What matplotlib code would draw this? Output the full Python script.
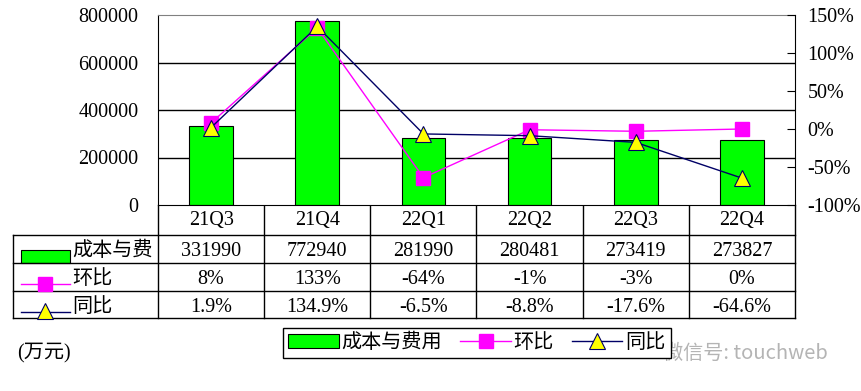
import matplotlib
matplotlib.use("Agg")
from matplotlib import pyplot as plt
from matplotlib import transforms
from matplotlib.patches import Rectangle

plt.rcParams['font.family'] = ['Liberation Serif', 'Noto Sans CJK SC']

# Dati
trimestri = ["21Q3", "21Q4", "22Q1", "22Q2", "22Q3", "22Q4"]
costi = [331990, 772940, 281990, 280481, 273419, 273827]   # 成本与费用 (万元)
huanbi = [8, 133, -64, -1, -3, 0]                          # 环比 %
tongbi = [1.9, 134.9, -6.5, -8.8, -17.6, -64.6]            # 同比 %

W, H = 862, 391
FS = 14.5
VERDE, MAGENTA, BLU, GIALLO = "#00FF00", "#FF00FF", "#000066", "#FFFF00"

fig = plt.figure(figsize=(W / 100, H / 100), dpi=100)

# Asse di sfondo in pixel per la tabella
bg = fig.add_axes([0, 0, 1, 1])
bg.set_xlim(0, W)
bg.set_ylim(H, 0)
bg.axis("off")

# Grafico principale
ax = fig.add_axes([158 / W, 1 - 205 / H, 637 / W, 190 / H])
x = list(range(len(trimestri)))
barre = ax.bar(x, costi, width=0.41, color=VERDE, edgecolor="black", linewidth=0.8, zorder=2)
ax.set_xlim(-0.5, 5.5)
ax.set_ylim(0, 800000)
yt = list(range(0, 800001, 200000))
ax.set_yticks(yt)
for t in yt[1:-1]:
    ax.axhline(t, color="black", lw=1, zorder=1)
ax.set_xticks([])
ax.tick_params(axis="y", length=0, pad=14, labelsize=FS)
ax.spines["top"].set_color("#808080")
ax.spines["right"].set_visible(False)

ax2 = ax.twinx()
ax2.set_ylim(-100, 150)
pt = list(range(-100, 151, 50))
ax2.set_yticks(pt)
ax2.set_yticklabels([f"{t}%" for t in pt])
ax2.tick_params(axis="y", direction="in", length=6, pad=9, labelsize=FS)
for s in ["left", "top", "bottom"]:
    ax2.spines[s].set_visible(False)
l1, = ax2.plot(x, huanbi, color=MAGENTA, lw=1, marker="s", ms=10.5,
               mfc=MAGENTA, mec=MAGENTA, clip_on=False, zorder=3)
l2, = ax2.plot(x, tongbi, color=BLU, lw=1, marker="^", ms=11,
               mfc=GIALLO, mec=BLU, mew=0.8, clip_on=False, zorder=4)

# Tabella dati
tr = transforms.blended_transform_factory(ax.transData, bg.transData)
righe_y = [235, 263, 291, 318]
for y in righe_y:
    bg.plot([13, 795], [y, y], color="black", lw=1)
bg.plot([13, 13], [235, 318], color="black", lw=1)
for i in range(len(trimestri) + 1):
    bg.plot([i - 0.5, i - 0.5], [205, 318], color="black", lw=1, transform=tr)

valori_righe = [
    (221, trimestri),
    (251, [str(v) for v in costi]),
    (279, [f"{v}%" for v in huanbi]),
    (307, [f"{v:.1f}%" for v in tongbi]),
]
for y, testi in valori_righe:
    for i, t in enumerate(testi):
        bg.text(i, y, t, transform=tr, ha="center", va="center", fontsize=FS)

# Chiavi della tabella
bg.add_patch(Rectangle((21, 250), 49, 13, facecolor=VERDE, edgecolor="black", lw=0.8))
bg.text(72, 251, "成本与费", ha="left", va="center", fontsize=FS)
bg.plot([21, 70], [284, 284], color=MAGENTA, lw=1)
bg.plot([45.5], [284], marker="s", ms=10.5, color=MAGENTA)
bg.text(72, 279, "环比", ha="left", va="center", fontsize=FS)
bg.plot([21, 70], [312, 312], color=BLU, lw=1)
bg.plot([45.5], [311], marker="^", ms=11, mfc=GIALLO, mec=BLU, mew=0.8)
bg.text(72, 307, "同比", ha="left", va="center", fontsize=FS)

# Legenda
leg = fig.legend(handles=[barre, l1, l2], labels=["成本与费用", "环比", "同比"],
                 loc="center", bbox_to_anchor=(477 / W, 1 - 343 / H), ncol=3,
                 fancybox=False, edgecolor="black", framealpha=1, fontsize=FS,
                 handlelength=2.5, handleheight=0.7, handletextpad=0.15,
                 columnspacing=0.9, borderpad=0.25, borderaxespad=0)
leg.get_frame().set_linewidth(1)

bg.text(17, 353, "(万元)", ha="left", va="center", fontsize=FS)
bg.text(663, 353, "微信号: touchweb", ha="left", va="center", fontsize=FS,
        color="#b4b4b4", family=["Noto Sans CJK SC", "DejaVu Sans"])

fig.savefig("out.png", dpi=100)
